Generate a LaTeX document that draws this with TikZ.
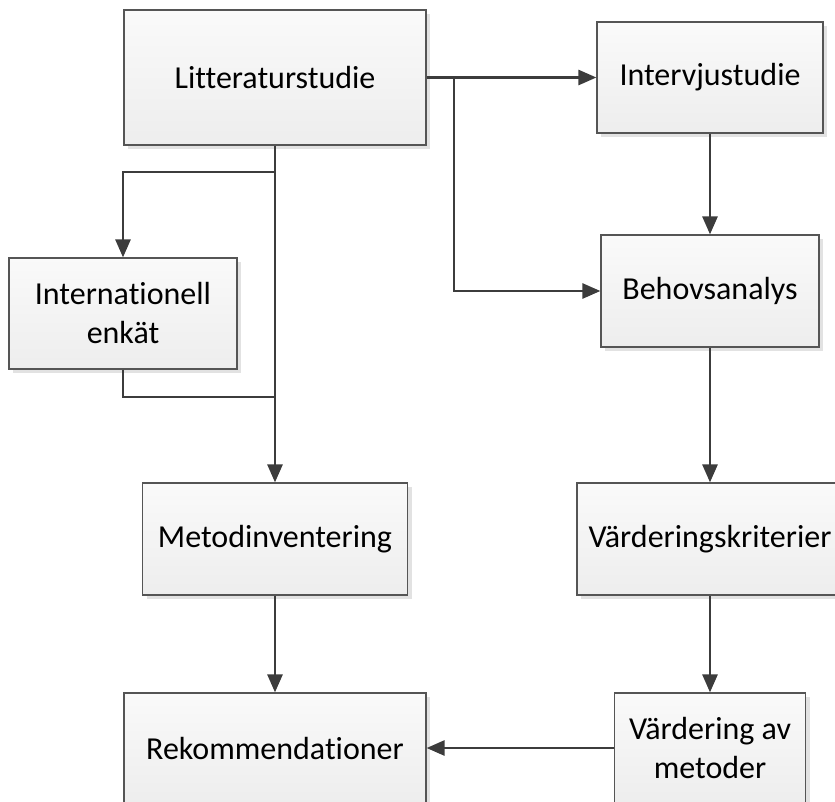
\documentclass[tikz,border=0pt]{standalone}
\usepackage{fontspec}
\setmainfont[Ligatures=NoCommon]{Carlito}
\usetikzlibrary{arrows.meta,shadows}
\definecolor{boxline}{HTML}{555555}
\definecolor{wire}{HTML}{3C3C3C}
\definecolor{shadowgray}{HTML}{E2E2E2}
\tikzset{
  procbox/.style={draw=boxline, line width=1.2pt, rectangle,
    top color=white!98!black, bottom color=white!93!black,
    drop shadow={shadow xshift=4pt, shadow yshift=-4pt, fill=shadowgray, opacity=1},
    align=center, inner sep=2pt,
    font=\fontsize{32}{39}\selectfont},
  flow/.style={draw=wire, line width=2.7pt,
    -{Triangle[length=18pt, width=15pt]}},
  wireonly/.style={draw=wire, line width=2.7pt}
}
\begin{document}
\begin{tikzpicture}[x=1pt, y=-1pt]
  \useasboundingbox (0,0) rectangle (835,801);

  % process boxes
  \node[procbox, minimum width=302pt, minimum height=135pt] (lit) at (275,77.5) {Litteraturstudie};
  \node[procbox, minimum width=226pt, minimum height=111pt] (int) at (710,77.5) {Intervjustudie};
  \node[procbox, minimum width=228pt, minimum height=111pt] (enk) at (123,313.5) {Internationell\\enkät};
  \node[procbox, minimum width=218pt, minimum height=112pt] (beh) at (710,291) {Behovsanalys};
  \node[procbox, minimum width=265pt, minimum height=112pt] (met) at (275,539) {Metodinventering};
  \node[procbox, minimum width=266pt, minimum height=112pt] (vk) at (710,539) {Värderingskriterier};
  \node[procbox, minimum width=191pt, minimum height=110pt] (vam) at (710,748) {Värdering av\\metoder};
  \node[procbox, minimum width=302pt, minimum height=110pt] (rek) at (275,748) {Rekommendationer};

  % branch points
  \coordinate (jr) at (454,77.5);
  \coordinate (jl) at (275,172);
  \coordinate (jb) at (275,397);

  % connectors
  \draw[flow] (lit.east) -- (int.west);
  \draw[flow] (jr) |- (beh.west);
  \draw[flow] (lit.south) -- (met.north);
  \draw[flow] (jl) -| (enk.north);
  \draw[wireonly] (enk.south) |- (jb);
  \draw[flow] (int.south) -- (beh.north);
  \draw[flow] (beh.south) -- (vk.north);
  \draw[flow] (vk.south) -- (vam.north);
  \draw[flow] (met.south) -- (rek.north);
  \draw[flow] (vam.west) -- (rek.east);
\end{tikzpicture}
\end{document}
